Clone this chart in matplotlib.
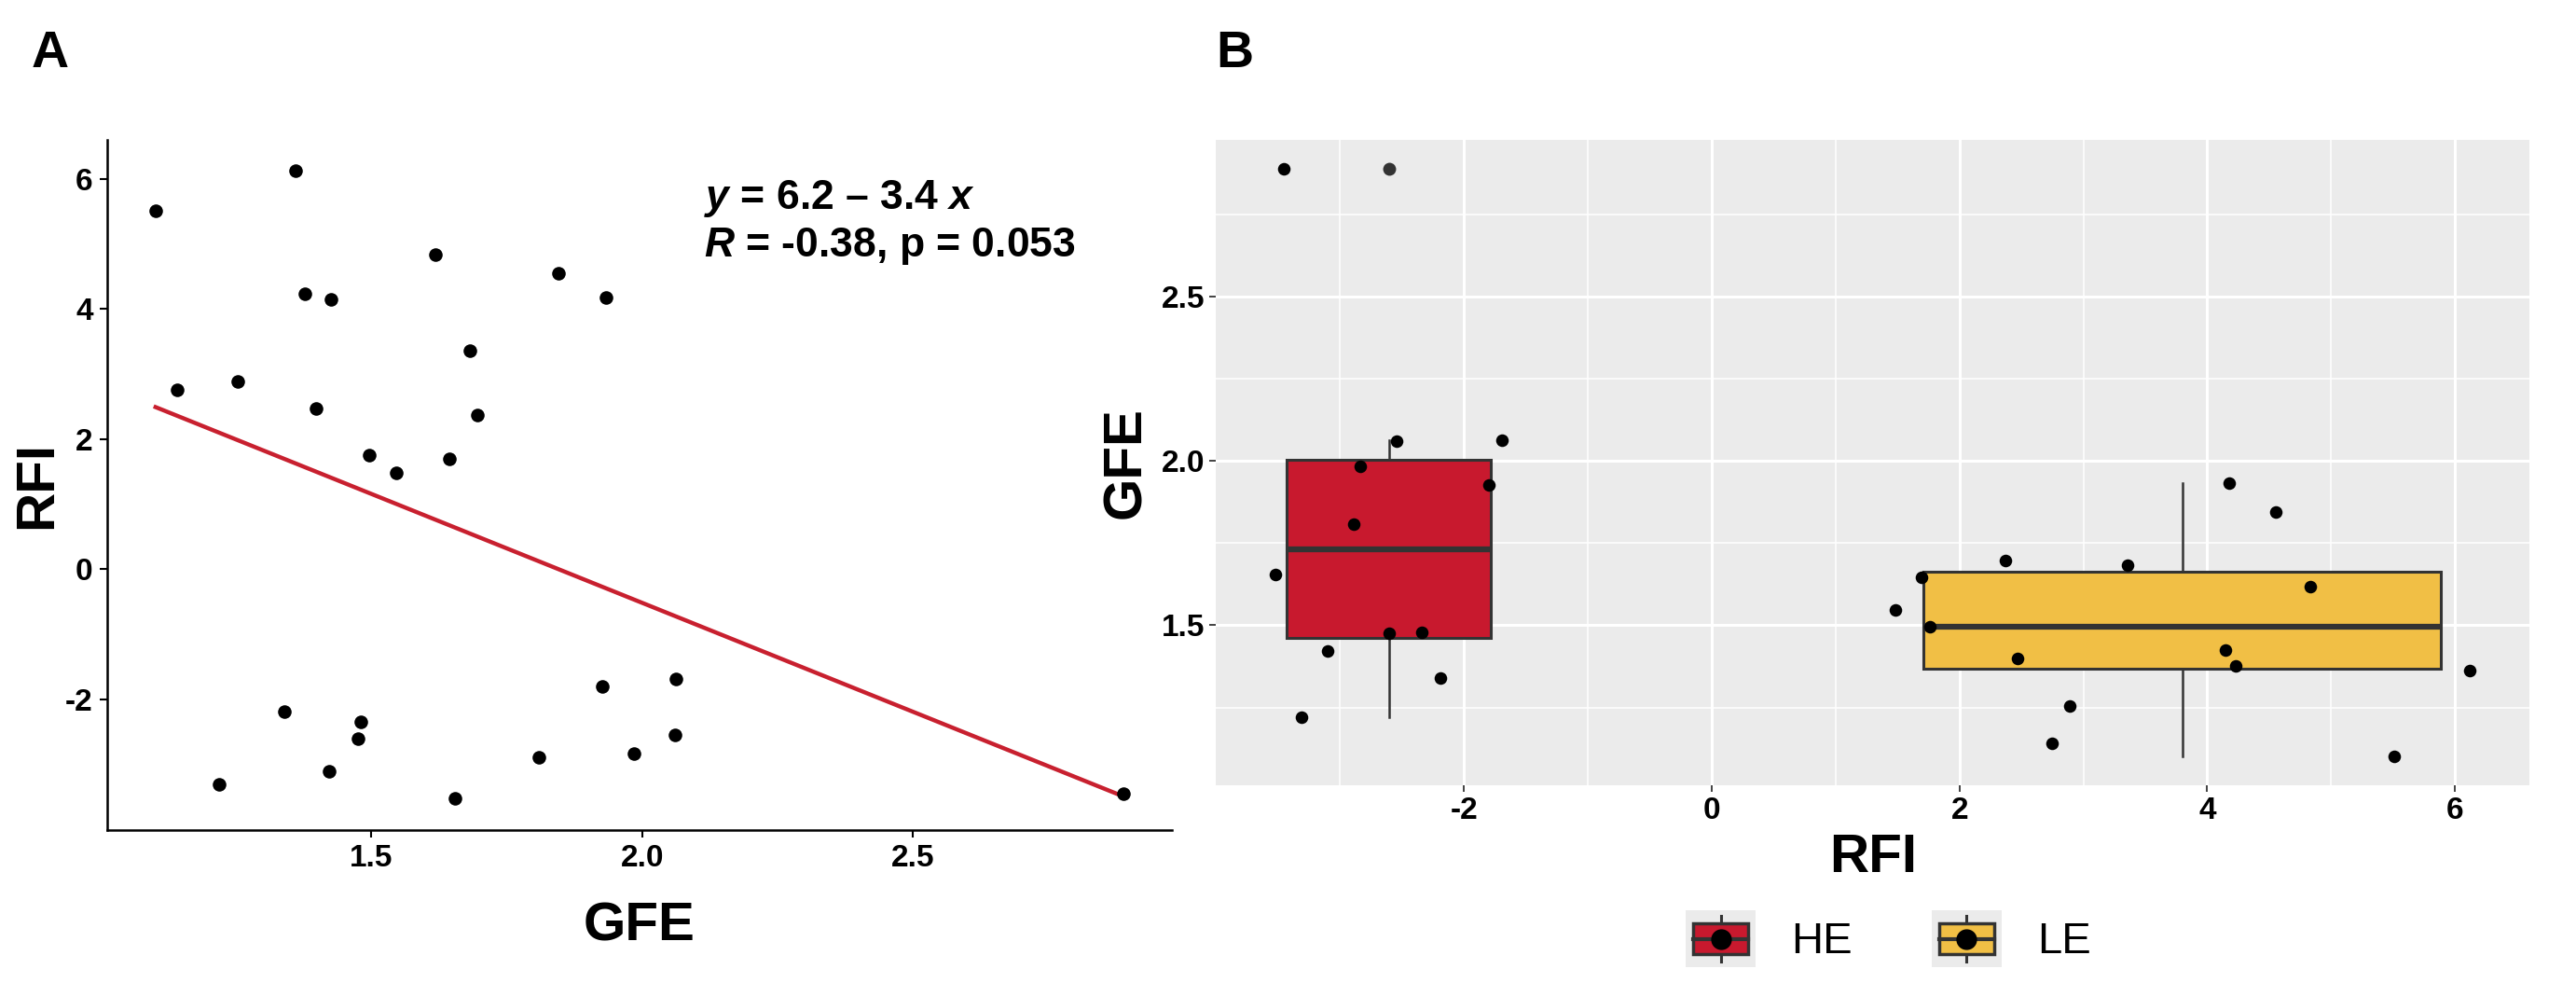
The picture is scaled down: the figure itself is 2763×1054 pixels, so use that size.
import numpy as np
import matplotlib
matplotlib.use("Agg")
import matplotlib.pyplot as plt
from matplotlib.patches import Rectangle, Patch
from matplotlib.lines import Line2D
from matplotlib.legend_handler import HandlerBase

plt.rcParams['font.family'] = ['Liberation Sans Narrow', 'Liberation Sans', 'DejaVu Sans']
plt.rcParams['axes.unicode_minus'] = False
plt.rcParams['mathtext.fontset'] = 'custom'
plt.rcParams['mathtext.it'] = 'Liberation Sans:italic:bold'
plt.rcParams['mathtext.rm'] = 'Liberation Sans:bold'

# HE animals (RFI < 0): GFE and RFI
he_gfe = [2.889, 1.654, 1.220, 1.423, 1.809, 1.985, 1.475, 2.060, 1.480, 1.339, 1.927, 2.063]
he_rfi = [-3.45, -3.52, -3.31, -3.10, -2.89, -2.84, -2.60, -2.54, -2.34, -2.19, -1.80, -1.69]
# LE animals (RFI > 0)
le_gfe = [1.546, 1.645, 1.496, 1.696, 1.398, 1.141, 1.254, 1.683, 1.426, 1.934, 1.377, 1.846, 1.618, 1.102, 1.361]
le_rfi = [1.48, 1.69, 1.76, 2.37, 2.47, 2.75, 2.89, 3.36, 4.15, 4.18, 4.23, 4.55, 4.83, 5.51, 6.12]

groups = ['HE', 'LE']
group_colors = ['#C8192E', '#F1BF45']

gfe = np.array(he_gfe + le_gfe)
rfi = np.array(he_rfi + le_rfi)

fig = plt.figure(figsize=(27.63, 10.54), dpi=100)

# ---------------- panel A: regression ----------------
ax1 = fig.add_axes([0.0416, 0.156, 0.4134, 0.702])
ax1.scatter(gfe, rfi, s=110, color='black', zorder=3, linewidths=0)
slope, icpt = np.polyfit(gfe, rfi, 1)
xs = np.array([gfe.min(), gfe.max()])
ax1.plot(xs, icpt + slope * xs, color='#C8202F', lw=3.2, zorder=2)

span = gfe.max() - gfe.min()
ax1.set_xlim(gfe.min() - 0.05 * span, gfe.max() + 0.05 * span)
span = rfi.max() - rfi.min()
ax1.set_ylim(rfi.min() - 0.05 * span, rfi.max() + 0.05 * span)
ax1.set_xticks([1.5, 2.0, 2.5])
ax1.set_xticklabels(['1.5', '2.0', '2.5'])
ax1.set_yticks([-2, 0, 2, 4, 6])
for s in ['top', 'right']:
    ax1.spines[s].set_visible(False)
for s in ['left', 'bottom']:
    ax1.spines[s].set_linewidth(1.8)
ax1.tick_params(labelsize=24, width=1.5, length=6, colors='black', pad=5)
for lab in ax1.get_xticklabels() + ax1.get_yticklabels():
    lab.set_fontweight('bold')
ax1.set_xlabel('GFE', fontsize=42, fontweight='bold', family='Liberation Sans', labelpad=22)
ax1.set_ylabel('RFI', fontsize=42, fontweight='bold', family='Liberation Sans', labelpad=2)

ax1.text(0.56, 0.915, r'$y$' + ' = 6.2 \u2013 3.4 ' + r'$x$',
         transform=ax1.transAxes, fontsize=32, fontweight='bold', family='Liberation Sans',
         ha='left', va='center')
ax1.text(0.56, 0.845, r'$R$' + ' = -0.38, p = 0.053',
         transform=ax1.transAxes, fontsize=32, fontweight='bold', family='Liberation Sans',
         ha='left', va='center')

# ---------------- panel B: boxplots ----------------
ax2 = fig.add_axes([0.472, 0.201, 0.510, 0.657])
ax2.set_facecolor('#EBEBEB')
for i, (gx, gy) in enumerate([(he_rfi, he_gfe), (le_rfi, le_gfe)]):
    pos = (max(gx) + min(gx)) / 2
    wid = 0.9 * (max(gx) - min(gx))
    ax2.boxplot([gy], positions=[pos], widths=[wid], whis=1.5, showcaps=False,
                patch_artist=True, manage_ticks=False, zorder=2,
                boxprops=dict(facecolor=group_colors[i], edgecolor='#333333', lw=2.2),
                medianprops=dict(color='#333333', lw=4.5),
                whiskerprops=dict(color='#333333', lw=1.8),
                flierprops=dict(marker='o', markerfacecolor='#333333', markeredgecolor='none',
                                markersize=10))
    ax2.scatter(gx, gy, s=95, color='black', zorder=3, linewidths=0)

span = rfi.max() - rfi.min()
ax2.set_xlim(rfi.min() - 0.05 * span, rfi.max() + 0.05 * span)
span = gfe.max() - gfe.min()
ax2.set_ylim(gfe.min() - 0.05 * span, gfe.max() + 0.05 * span)
ax2.set_xticks([-2, 0, 2, 4, 6])
ax2.set_xticks([-3, -1, 1, 3, 5], minor=True)
ax2.set_yticks([1.5, 2.0, 2.5])
ax2.set_yticklabels(['1.5', '2.0', '2.5'])
ax2.set_yticks([1.25, 1.75, 2.25, 2.75], minor=True)
ax2.grid(which='major', color='white', lw=2.2)
ax2.grid(which='minor', color='white', lw=1.1)
ax2.set_axisbelow(True)
for s in ax2.spines.values():
    s.set_visible(False)
ax2.tick_params(labelsize=24, width=1.3, length=5, colors='#333333', labelcolor='black')
ax2.tick_params(which='minor', length=0)
for lab in ax2.get_xticklabels() + ax2.get_yticklabels():
    lab.set_fontweight('bold')
ax2.set_xlabel('RFI', fontsize=42, fontweight='bold', family='Liberation Sans', labelpad=6)
ax2.set_ylabel('GFE', fontsize=42, fontweight='bold', family='Liberation Sans', labelpad=8)


class BoxKey(HandlerBase):
    def create_artists(self, legend, orig_handle, xd, yd, w, h, fontsize, trans):
        x0, y0 = -xd, -yd
        fc = orig_handle.get_facecolor()
        arts = [Rectangle((x0, y0), w, h, facecolor='#EBEBEB', edgecolor='none', transform=trans),
                Line2D([x0 + w / 2] * 2, [y0 + 0.1 * h, y0 + 0.9 * h], color='#333333', lw=2.2, transform=trans),
                Rectangle((x0 + 0.11 * w, y0 + 0.23 * h), 0.78 * w, 0.54 * h, facecolor=fc,
                          edgecolor='#333333', lw=2.5, transform=trans),
                Line2D([x0 + 0.11 * w, x0 + 0.89 * w], [y0 + h / 2] * 2, color='#333333', lw=3, transform=trans),
                Line2D([x0 + w / 2], [y0 + h / 2], marker='o', color='black', markersize=15, transform=trans)]
        return arts


handles = [Patch(facecolor=c) for c in group_colors]
fig.legend(handles, groups, handler_map={Patch: BoxKey()}, loc='center', bbox_to_anchor=(0.733, 0.045),
           ncol=2, frameon=False, fontsize=34, handlelength=1.6, handleheight=1.6,
           handletextpad=0.8, columnspacing=1.8)

fig.text(0.012, 0.97, 'A', fontsize=40, fontweight='bold', family='Liberation Sans', va='top')
fig.text(0.472, 0.97, 'B', fontsize=40, fontweight='bold', family='Liberation Sans', va='top')

fig.savefig('out.png', dpi=100)
